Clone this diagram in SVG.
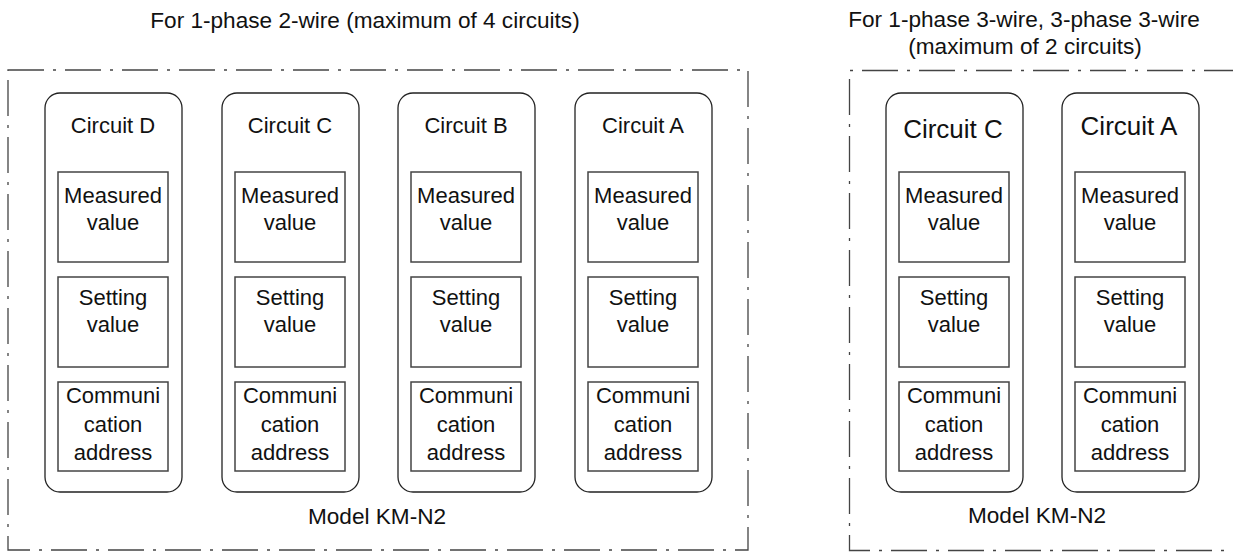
<svg xmlns="http://www.w3.org/2000/svg" width="1233" height="552" viewBox="0 0 1233 552">
<style>
text{font-family:"Liberation Sans",Arial,sans-serif;font-size:22px;fill:#111;text-anchor:middle}
.big{font-size:26px}
.ttl{font-size:22.6px}
.frame{fill:none;stroke:#444;stroke-width:1.3;stroke-dasharray:36 9 3 9}
.circ{fill:#fff;stroke:#222;stroke-width:1.3}
.item{fill:#fff;stroke:#444;stroke-width:1.5}
</style>
<rect width="1233" height="552" fill="#fff"/>
<g id="group-2wire">
<text class="ttl" x="365" y="28">For 1-phase 2-wire (maximum of 4 circuits)</text>
<rect class="frame" x="8" y="70" width="740" height="480"/>
<text class="ttl" x="377" y="524">Model KM-N2</text>
</g>
<g id="group-3wire">
<text class="ttl" x="1024" y="27">For 1-phase 3-wire, 3-phase 3-wire</text>
<text class="ttl" x="1025" y="54">(maximum of 2 circuits)</text>
<path class="frame" d="M1240 70.5 H849.5 V550.5 H1240"/>
<text class="ttl" x="1037" y="523">Model KM-N2</text>
</g>
<g id="circuit-D">
<rect class="circ" x="45" y="93" width="137" height="399" rx="15"/>
<text x="113" y="133">Circuit D</text>
<rect class="item" x="58" y="172" width="110" height="90"/>
<text x="113" y="203">Measured</text><text x="113" y="230">value</text>
<rect class="item" x="58" y="277" width="110" height="90"/>
<text x="113" y="305">Setting</text><text x="113" y="332">value</text>
<rect class="item" x="58" y="382" width="110" height="89"/>
<text x="113" y="403">Communi</text><text x="113" y="432">cation</text><text x="113" y="460">address</text>
</g>
<g id="circuit-C">
<rect class="circ" x="222" y="93" width="137" height="399" rx="15"/>
<text x="290" y="133">Circuit C</text>
<rect class="item" x="235" y="172" width="110" height="90"/>
<text x="290" y="203">Measured</text><text x="290" y="230">value</text>
<rect class="item" x="235" y="277" width="110" height="90"/>
<text x="290" y="305">Setting</text><text x="290" y="332">value</text>
<rect class="item" x="235" y="382" width="110" height="89"/>
<text x="290" y="403">Communi</text><text x="290" y="432">cation</text><text x="290" y="460">address</text>
</g>
<g id="circuit-B">
<rect class="circ" x="398" y="93" width="137" height="399" rx="15"/>
<text x="466" y="133">Circuit B</text>
<rect class="item" x="411" y="172" width="110" height="90"/>
<text x="466" y="203">Measured</text><text x="466" y="230">value</text>
<rect class="item" x="411" y="277" width="110" height="90"/>
<text x="466" y="305">Setting</text><text x="466" y="332">value</text>
<rect class="item" x="411" y="382" width="110" height="89"/>
<text x="466" y="403">Communi</text><text x="466" y="432">cation</text><text x="466" y="460">address</text>
</g>
<g id="circuit-A">
<rect class="circ" x="575" y="93" width="137" height="399" rx="15"/>
<text x="643" y="133">Circuit A</text>
<rect class="item" x="588" y="172" width="110" height="90"/>
<text x="643" y="203">Measured</text><text x="643" y="230">value</text>
<rect class="item" x="588" y="277" width="110" height="90"/>
<text x="643" y="305">Setting</text><text x="643" y="332">value</text>
<rect class="item" x="588" y="382" width="110" height="89"/>
<text x="643" y="403">Communi</text><text x="643" y="432">cation</text><text x="643" y="460">address</text>
</g>
<g id="circuit-C2">
<rect class="circ" x="886" y="93" width="137" height="399" rx="15"/>
<text class="big" x="953" y="138">Circuit C</text>
<rect class="item" x="899" y="172" width="110" height="90"/>
<text x="954" y="203">Measured</text><text x="954" y="230">value</text>
<rect class="item" x="899" y="277" width="110" height="90"/>
<text x="954" y="305">Setting</text><text x="954" y="332">value</text>
<rect class="item" x="899" y="382" width="110" height="89"/>
<text x="954" y="403">Communi</text><text x="954" y="432">cation</text><text x="954" y="460">address</text>
</g>
<g id="circuit-A2">
<rect class="circ" x="1062" y="93" width="137" height="399" rx="15"/>
<text class="big" x="1129" y="135">Circuit A</text>
<rect class="item" x="1075" y="172" width="110" height="90"/>
<text x="1130" y="203">Measured</text><text x="1130" y="230">value</text>
<rect class="item" x="1075" y="277" width="110" height="90"/>
<text x="1130" y="305">Setting</text><text x="1130" y="332">value</text>
<rect class="item" x="1075" y="382" width="110" height="89"/>
<text x="1130" y="403">Communi</text><text x="1130" y="432">cation</text><text x="1130" y="460">address</text>
</g>
<g id="connectors"/>
</svg>
